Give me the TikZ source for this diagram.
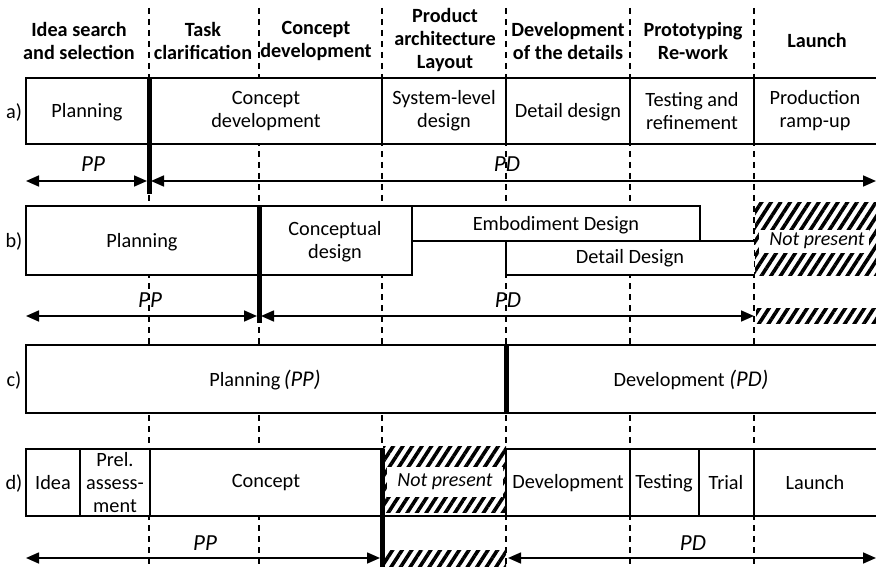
\documentclass[tikz,border=0pt]{standalone}
\usepackage{fontspec}
\setmainfont{Carlito}
\usetikzlibrary{arrows.meta,patterns.meta}
\begin{document}
\begin{tikzpicture}[x=1pt,y=-1pt,
  hdr/.style={font=\fontsize{20.2}{23}\selectfont\bfseries, align=center, inner sep=0pt},
  txt/.style={font=\fontsize{20.3}{23}\selectfont, align=center, inner sep=0pt},
  itx/.style={font=\fontsize{20}{23}\selectfont\itshape, inner sep=0pt},
  big/.style={font=\fontsize{23}{23}\selectfont\itshape, inner sep=0pt},
  boxline/.style={draw=black, line width=1.3pt, fill=white},
  sep/.style={draw=black, line width=1.3pt, dash pattern=on 6pt off 5pt},
  bar/.style={draw=black, line width=5pt},
  span/.style={draw=black, line width=1.6pt, {Triangle[length=13pt,width=11pt]}-{Triangle[length=13pt,width=11pt]}},
  hatch/.style={pattern={Lines[angle=57,distance=8pt,line width=3.6pt]}, pattern color=black},
  notp/.style={fill=white, inner sep=0pt}]
\useasboundingbox (0,0) rectangle (876,567);
% column separators
\foreach \x/\n in {149/s1,259/s2,382/s3,506/s4,630/s5,754/s6}{
  \coordinate (\n t) at (\x,8);
  \coordinate (\n b) at (\x,567);
  \draw[sep] (\n t) -- (\n b);
}
% headers
\node[hdr] (h1) at (79,41) {Idea search\\and selection};
\node[hdr] (h2) at (203,41) {Task\\clarification};
\node[hdr] (h3) at (316,41) {Concept\\development};
\node[hdr] (h4) at (445,40) {Product\\architecture\\Layout};
\node[hdr] (h5) at (568,41) {Development\\of the details};
\node[hdr] (h6) at (693,41) {Prototyping\\Re-work};
\node[hdr] (h7) at (817,40) {Launch};
% row labels
\node[txt] (la) at (14,112) {a)};
\node[txt] (lb) at (14,241) {b)};
\node[txt] (lc) at (14,380) {c)};
\node[txt] (ld) at (14,483) {d)};

% ---------------- row a
\draw[boxline] (26,78) rectangle (149,144);
\draw[boxline] (149,78) rectangle (382,144);
\draw[boxline] (382,78) rectangle (506,144);
\draw[boxline] (506,78) rectangle (630,144);
\draw[boxline] (630,78) rectangle (754,144);
\draw[boxline] (754,78) rectangle (880,144);
\node[txt] (a1) at (87,112) {Planning};
\node[txt] (a2) at (266,111) {Concept\\development};
\node[txt] (a3) at (444,111) {System-level\\design};
\node[txt] (a4) at (568,112) {Detail design};
\node[txt] (a5) at (692,111) {Testing and\\refinement};
\node[txt] (a6) at (815,111) {Production\\ramp-up};
\coordinate (aL) at (26,181);
\coordinate (aM1) at (147,181);
\coordinate (aM2) at (151,181);
\coordinate (aR) at (876,181);
\draw[span] (aL) -- (aM1);
\draw[span] (aM2) -- (aR);
\coordinate (abt) at (149,78);
\coordinate (abb) at (149,194);
\draw[bar] (abt) -- (abb);
\node[big] (app) at (93,164) {PP};
\node[big] (apd) at (507,164) {PD};

% ---------------- row b
\draw[boxline] (26,206) rectangle (259,275);
\draw[boxline] (259,206) rectangle (412,275);
\draw[boxline] (412,206) rectangle (700,241);
\draw[boxline] (754,275) -- (506,275) -- (506,241) -- (754,241);
\node[txt] (b1) at (142,242) {Planning};
\node[txt] (b2) at (335,242) {Conceptual\\design};
\node[txt] (b3) at (556,225) {Embodiment Design};
\node[txt] (b4) at (630,258) {Detail Design};
\fill[hatch] (755,203) rectangle (880,275);
\node[notp, minimum width=110pt, minimum height=23pt] (bnp) at (814,241) {};
\node[itx] (bnpt) at (817,241) {Not present};
\fill[hatch] (756,308) rectangle (880,323);
\coordinate (bL) at (26,316);
\coordinate (bM1) at (257,316);
\coordinate (bM2) at (261,316);
\coordinate (bR) at (754,316);
\draw[span] (bL) -- (bM1);
\draw[span] (bM2) -- (bR);
\coordinate (bbt) at (259,206);
\coordinate (bbb) at (259,323);
\draw[bar] (bbt) -- (bbb);
\node[big] (bpp) at (150,300) {PP};
\node[big] (bpd) at (508,300) {PD};

% ---------------- row c
\draw[boxline] (26,345) rectangle (880,413);
\coordinate (cbt) at (506,345);
\coordinate (cbb) at (506,413);
\draw[bar] (cbt) -- (cbb);
\node[txt] (c1) at (265,380) {Planning\,{\fontsize{22.5}{23}\selectfont\itshape(PP)}};
\node[txt] (c2) at (691,380) {Development {\fontsize{22.5}{23}\selectfont\itshape(PD)}};

% ---------------- row d
\draw[boxline] (26,449) rectangle (80,516);
\draw[boxline] (80,449) rectangle (150,516);
\draw[boxline] (150,449) rectangle (382,516);
\draw[boxline] (382,516) -- (506,516);
\draw[boxline] (506,449) rectangle (630,516);
\draw[boxline] (630,449) rectangle (699,516);
\draw[boxline] (699,449) rectangle (754,516);
\draw[boxline] (754,449) rectangle (880,516);
\node[txt] (d1) at (53,483) {Idea};
\node[txt] (d2) at (115,483) {Prel.\\assess-\\ment};
\node[txt] (d3) at (266,483) {Concept};
\node[txt] (d4) at (568,483) {Development};
\node[txt] (d5) at (664,483) {Testing};
\node[txt] (d6) at (726,483) {Trial};
\node[txt] (d7) at (815,483) {Launch};
\fill[hatch] (383,446) rectangle (506,512);
\node[notp, minimum width=116pt, minimum height=30pt] (dnp) at (445,482) {};
\node[itx] (dnpt) at (445,482) {Not present};
\fill[hatch] (384,550) rectangle (506,567);
\coordinate (dL) at (26,558);
\coordinate (dM1) at (380,558);
\coordinate (dM2) at (508,558);
\coordinate (dR) at (876,558);
\draw[span] (dL) -- (dM1);
\draw[span] (dM2) -- (dR);
\coordinate (dbt) at (382,449);
\coordinate (dbb) at (382,567);
\draw[bar] (dbt) -- (dbb);
\node[big] (dpp) at (205,543) {PP};
\node[big] (dpd) at (693,543) {PD};
\end{tikzpicture}
\end{document}
